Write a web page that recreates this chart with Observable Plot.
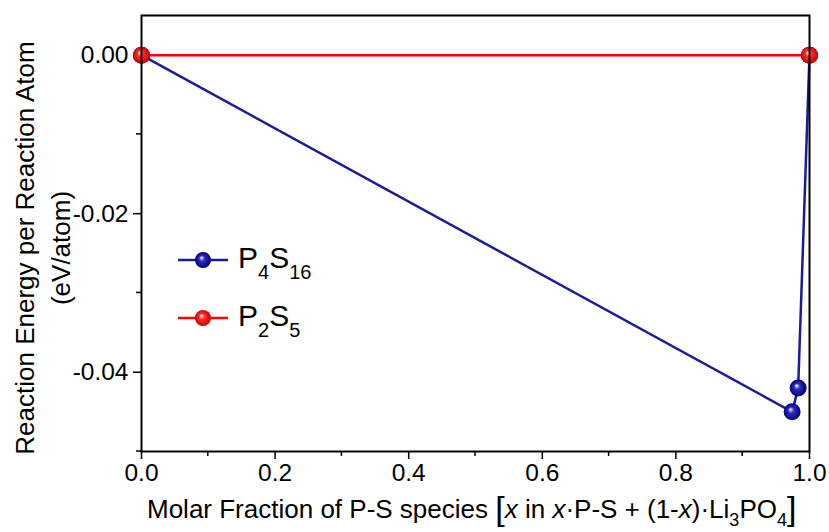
<!DOCTYPE html>
<html>
<head>
<meta charset="utf-8">
<script src="https://cdn.jsdelivr.net/npm/d3@7"></script>
<script src="https://cdn.jsdelivr.net/npm/@observablehq/plot@0.6"></script>
<style>
  html, body { margin: 0; padding: 0; background: white; }
</style>
</head>
<body>
<div id="chart"></div>
<script>
// ---- Data ----
const seriesNames = ["P4S16", "P2S5"];
const p4s16X = [0, 0.974, 0.983, 1];
const p4s16Y = [0, -0.045, -0.042, 0];
const p2s5X = [0, 1];
const p2s5Y = [0, 0];
const xTicks = [0, 0.2, 0.4, 0.6, 0.8, 1.0];
const xMinorTicks = [0.1, 0.3, 0.5, 0.7, 0.9];
const yTicks = [0, -0.02, -0.04];
const yMinorTicks = [-0.01, -0.03, -0.05];
const colors = ["#1a1a9e", "#ff0000"];

const p4s16 = p4s16X.map((x, i) => ({x, y: p4s16Y[i]}));
const p2s5 = p2s5X.map((x, i) => ({x, y: p2s5Y[i]}));

const FONT = "'Liberation Sans', Arial, Helvetica, sans-serif";

const plot = Plot.plot({
  width: 829,
  height: 532,
  marginLeft: 141,
  marginRight: 20,
  marginTop: 15,
  marginBottom: 81,
  style: {fontFamily: FONT, fontSize: "24.5px", color: "black", background: "white", overflow: "visible"},
  x: {domain: [0, 1], ticks: xTicks, tickFormat: d => d.toFixed(1), tickSize: 8, tickPadding: 4, label: null},
  y: {domain: [-0.05, 0.005], ticks: yTicks, tickFormat: d => d.toFixed(2), tickSize: 8, tickPadding: 5, label: null},
  marks: [
    Plot.line(p4s16, {x: "x", y: "y", stroke: colors[0], strokeWidth: 2.5}),
    Plot.line(p2s5, {x: "x", y: "y", stroke: colors[1], strokeWidth: 2.5}),
    Plot.dot(p4s16, {x: "x", y: "y", r: 8.5, fill: colors[0], stroke: "none"}),
    Plot.dot(p2s5, {x: "x", y: "y", r: 8.5, fill: colors[1], stroke: "none"}),
    Plot.frame({stroke: "black", strokeWidth: 2})
  ]
});

const svg = d3.select(plot);
const xs = plot.scale("x");
const ys = plot.scale("y");

// gradients for sphere markers
const defs = svg.insert("defs", ":first-child");
function grad(id, base, dark) {
  const g = defs.append("radialGradient").attr("id", id)
    .attr("cx", "0.5").attr("cy", "0.5").attr("r", "0.5")
    .attr("fx", "0.4").attr("fy", "0.35");
  g.append("stop").attr("offset", "0%").attr("stop-color", "#ffffff");
  g.append("stop").attr("offset", "35%").attr("stop-color", base);
  g.append("stop").attr("offset", "100%").attr("stop-color", dark);
}
grad("gBlue", "#2b2bc8", "#00006e");
grad("gRed", "#ff3030", "#c80000");
const gradIds = ["url(#gBlue)", "url(#gRed)"];
svg.selectAll('g[aria-label="dot"]').each(function(d, i) {
  d3.select(this).attr("fill", gradIds[i]);
  d3.select(this).selectAll("circle").attr("fill", gradIds[i]);
});

// minor ticks
const x0 = xs.range[0], x1 = xs.range[1];
const y0 = ys.range[0], y1 = ys.range[1];
const minor = svg.append("g").attr("stroke", "black").attr("stroke-width", 1.5);
const bottomY = Math.max(y0, y1);
const leftX = Math.min(x0, x1);
xMinorTicks.forEach(v => {
  const px = xs.apply(v);
  minor.append("line").attr("x1", px).attr("x2", px).attr("y1", bottomY).attr("y2", bottomY + 5);
});
yMinorTicks.forEach(v => {
  const py = ys.apply(v);
  minor.append("line").attr("x1", leftX).attr("x2", leftX - 5).attr("y1", py).attr("y2", py);
});
svg.selectAll('g[aria-label="x-axis"] line, g[aria-label="y-axis"] line, g[aria-label="x-axis tick"] path, g[aria-label="y-axis tick"] path').attr("stroke-width", 1.5);

// y-axis title (two lines)
const yMid = 248;
svg.append("text").attr("transform", `translate(34,${yMid}) rotate(-90)`)
  .attr("text-anchor", "middle").attr("font-family", FONT).attr("font-size", 26).attr("fill", "black")
  .text("Reaction Energy per Reaction Atom");
svg.append("text").attr("transform", `translate(70,${yMid}) rotate(-90)`)
  .attr("text-anchor", "middle").attr("font-family", FONT).attr("font-size", 26).attr("fill", "black")
  .text("(eV/atom)");

// x-axis title
const xt = svg.append("text").attr("x", 147).attr("y", 518).attr("text-anchor", "start")
  .attr("font-family", FONT).attr("font-size", 26).attr("fill", "black");
xt.append("tspan").text("Molar Fraction of P-S species ");
xt.append("tspan").attr("font-size", 34).attr("dy", 2).text("[");
xt.append("tspan").attr("font-style", "italic").attr("dy", -2).text("x");
xt.append("tspan").text(" in ");
xt.append("tspan").attr("font-style", "italic").text("x");
xt.append("tspan").text("\u00B7P-S + (1-");
xt.append("tspan").attr("font-style", "italic").text("x");
xt.append("tspan").text(")\u00B7Li");
xt.append("tspan").attr("font-size", 18).attr("dy", 8).text("3");
xt.append("tspan").attr("dy", -8).text("PO");
xt.append("tspan").attr("font-size", 18).attr("dy", 8).text("4");
xt.append("tspan").attr("font-size", 34).attr("dy", -6).text("]");

// legend
const legendRows = [
  {y: 260, main: [["P", ""], ["4", "sub"], ["S", ""], ["16", "sub"]]},
  {y: 318, main: [["P", ""], ["2", "sub"], ["S", ""], ["5", "sub"]]}
];
const lg = svg.append("g");
legendRows.forEach((row, i) => {
  lg.append("line").attr("x1", 178).attr("x2", 228).attr("y1", row.y).attr("y2", row.y)
    .attr("stroke", colors[i]).attr("stroke-width", 2.5);
  lg.append("circle").attr("cx", 203).attr("cy", row.y).attr("r", 8).attr("fill", gradIds[i]);
  const t = lg.append("text").attr("x", 238).attr("y", row.y + 8).attr("text-anchor", "start")
    .attr("font-family", FONT).attr("font-size", 30).attr("fill", "black")
    .attr("aria-label", seriesNames[i]);
  let sub = false;
  row.main.forEach(([s, kind]) => {
    const sp = t.append("tspan").text(s);
    if (kind === "sub" && !sub) { sp.attr("font-size", 20).attr("dy", 11); sub = true; }
    else if (kind !== "sub" && sub) { sp.attr("dy", -11); sub = false; }
    else if (kind === "sub") sp.attr("font-size", 20);
  });
});

document.getElementById("chart").appendChild(plot);
</script>
</body>
</html>
